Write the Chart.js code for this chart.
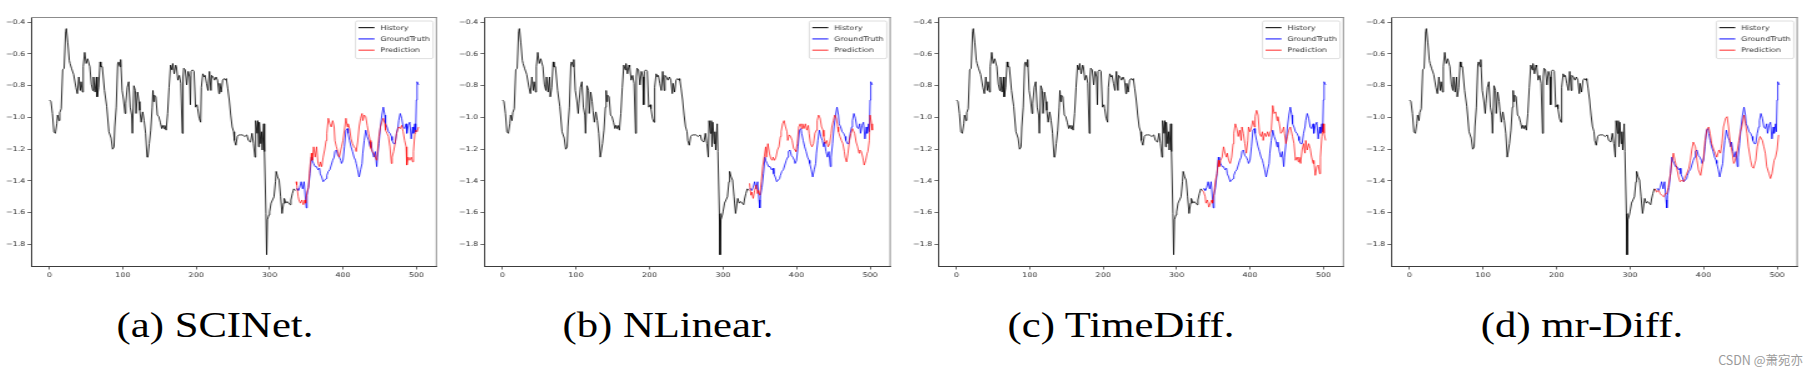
<!DOCTYPE html>
<html><head><meta charset="utf-8">
<script src="https://cdn.jsdelivr.net/npm/chart.js@4.4.0/dist/chart.umd.min.js"></script>
<style>
html,body{margin:0;padding:0;background:#fff;width:1812px;height:375px;overflow:hidden;position:relative}
canvas{position:absolute;top:0}
.cap{position:absolute;top:307.7px;font-family:"Liberation Serif","Times New Roman",serif;font-size:35px;line-height:35px;color:#000;white-space:pre;transform:translateX(-50%) scaleX(1.22);}
.wm{position:absolute;right:9px;top:350px;font-family:"Noto Sans CJK SC","Noto Sans",sans-serif;font-size:12.5px;color:#9a9a9a;white-space:pre}
</style></head><body>
<canvas id="c0"></canvas><canvas id="c1"></canvas><canvas id="c2"></canvas><canvas id="c3"></canvas>
<div class="cap" id="t0"></div><div class="cap" id="t1"></div><div class="cap" id="t2"></div><div class="cap" id="t3"></div>
<div class="wm">CSDN @萧宛亦</div>
<script>
// ---- data ----
const seriesLabels = ['History', 'GroundTruth', 'Prediction'];
const captions = ['(a) SCINet.', '(b) NLinear.', '(c) TimeDiff.', '(d) mr-Diff.'];
const xTicks = [0, 100, 200, 300, 400, 500];
const yTicks = [-1.8, -1.6, -1.4, -1.2, -1.0, -0.8, -0.6, -0.4];

const histX = [0,2,4,6,8,10,11,13,14,16,18,20,22,23,25,27,28,30,33,36,38,40,42,43,45,46,48,50,52,55,57,59,60,62,64,65,67,69,70,72,75,78,81,84,86,88,89,91,93,94,96,97,99,101,103,104,106,108,110,112,113,115,117,118,120,122,123,125,127,129,131,133,134,136,138,140,141,142,143,145,147,149,151,153,154,156,157,159,161,163,165,167,168,170,172,173,175,177,179,181,182,183,185,187,189,191,192,193,195,197,199,201,202,204,206,207,209,211,212,214,216,218,220,221,223,225,227,229,231,232,234,236,238,240,241,243,245,247,249,251,252,254,256,258,260,263,266,269,271,274,276,278,280,281,283,284,285,286,288,289,290,292,293,295,296,297,299,300,302,304,306,308,309,311,313,315,317,319,320,322,324,326,328,329,331,333,335];
const histY = [-0.89,-0.90,-0.975,-1.09,-1.10,-1.04,-0.985,-1.02,-0.97,-0.945,-0.70,-0.69,-0.46,-0.44,-0.53,-0.64,-0.66,-0.69,-0.73,-0.81,-0.85,-0.745,-0.83,-0.775,-0.84,-0.68,-0.59,-0.66,-0.63,-0.68,-0.79,-0.83,-0.745,-0.84,-0.745,-0.87,-0.81,-0.65,-0.68,-0.68,-0.83,-0.93,-1.09,-1.13,-1.20,-1.185,-1.06,-0.935,-0.66,-0.65,-0.68,-0.635,-0.83,-0.89,-0.975,-0.91,-0.81,-0.775,-0.935,-0.985,-1.10,-0.80,-0.83,-0.975,-0.84,-0.90,-0.955,-1.03,-0.965,-1.02,-1.10,-1.25,-1.25,-1.165,-1.08,-0.935,-0.83,-0.90,-0.86,-0.87,-0.985,-0.995,-1.03,-1.07,-1.05,-1.07,-1.05,-1.08,-0.975,-0.81,-0.67,-0.70,-0.66,-0.725,-0.67,-0.68,-0.765,-0.735,-0.785,-1.10,-0.745,-0.69,-0.70,-0.795,-0.71,-0.745,-0.92,-0.71,-0.70,-0.71,-0.935,-0.92,-0.945,-1.005,-1.03,-0.81,-0.725,-0.745,-0.735,-0.785,-0.83,-0.71,-0.83,-0.735,-0.745,-0.765,-0.745,-0.765,-0.85,-0.785,-0.84,-0.765,-0.755,-0.765,-0.755,-0.82,-0.89,-0.985,-1.06,-1.09,-1.145,-1.175,-1.12,-1.11,-1.11,-1.11,-1.12,-1.11,-1.145,-1.155,-1.10,-1.165,-1.25,-1.02,-1.10,-1.02,-1.185,-1.03,-1.165,-1.09,-1.205,-1.04,-1.215,-1.605,-1.865,-1.645,-1.615,-1.595,-1.54,-1.52,-1.50,-1.405,-1.34,-1.375,-1.395,-1.50,-1.605,-1.54,-1.51,-1.54,-1.53,-1.54,-1.55,-1.52,-1.48,-1.45,-1.46];

const truthX = [336,338,339,341,343,345,347,349,350,351,353,355,357,358,360,362,364,366,368,369,371,373,375,377,378,380,382,384,386,388,389,391,393,395,397,398,400,402,404,406,407,409,411,413,415,417,418,420,422,424,426,427,429,431,433,435,437,438,440,442,444,446,447,449,451,453,455,457,458,460,462,464,466,467,469,471,473,475,476,478,480,482,484,486,487,489,491,493,495,496,498,499,500,501,503];
const truthY = [-1.45,-1.45,-1.46,-1.44,-1.405,-1.45,-1.405,-1.52,-1.57,-1.49,-1.44,-1.355,-1.25,-1.27,-1.29,-1.31,-1.31,-1.33,-1.32,-1.355,-1.375,-1.405,-1.395,-1.385,-1.365,-1.34,-1.33,-1.30,-1.27,-1.25,-1.215,-1.205,-1.24,-1.25,-1.27,-1.29,-1.27,-1.185,-1.08,-1.07,-1.10,-1.145,-1.185,-1.215,-1.25,-1.27,-1.29,-1.33,-1.375,-1.33,-1.29,-1.225,-1.145,-1.08,-1.12,-1.145,-1.185,-1.155,-1.215,-1.25,-1.215,-1.31,-1.25,-1.165,-1.06,-0.985,-0.935,-0.985,-1.04,-1.06,-1.09,-1.10,-1.12,-1.145,-1.165,-1.165,-1.10,-1.06,-1.02,-0.975,-1.005,-1.06,-1.07,-1.04,-1.10,-1.05,-1.03,-1.135,-1.06,-1.10,-1.04,-1.09,-0.89,-0.775,-0.795];

const scinetX = [336,337,339,340,342,344,346,348,349,351,353,355,357,358,360,362,364,366,368,369,371,373,375,377,378,380,382,384,386,388,389,391,393,395,397,398,400,402,404,406,407,409,411,413,415,417,418,420,422,424,426,427,429,431,433,435,437,438,440,442,444,446,447,449,451,453,455,457,458,460,462,464,466,467,469,471,473,475,476,478,480,482,484,486,487,489,491,493,495,496,498,499,501,503];
const scinetY = [-1.405,-1.425,-1.50,-1.52,-1.54,-1.52,-1.55,-1.52,-1.54,-1.47,-1.44,-1.31,-1.225,-1.27,-1.185,-1.25,-1.185,-1.29,-1.31,-1.28,-1.31,-1.25,-1.205,-1.145,-1.10,-1.005,-1.04,-1.06,-1.02,-1.06,-1.145,-1.185,-1.215,-1.25,-1.205,-1.185,-1.145,-1.08,-1.005,-1.06,-1.04,-1.07,-1.135,-1.165,-1.185,-1.195,-1.215,-1.155,-1.06,-1.005,-0.975,-1.02,-0.985,-0.995,-1.05,-1.10,-1.145,-1.195,-1.215,-1.225,-1.25,-1.27,-1.215,-1.12,-1.06,-1.03,-1.005,-1.04,-1.08,-1.10,-1.12,-1.185,-1.29,-1.25,-1.215,-1.165,-1.10,-1.07,-1.06,-1.07,-1.05,-1.09,-1.145,-1.185,-1.30,-1.25,-1.27,-1.25,-1.28,-1.215,-1.10,-1.08,-1.09,-1.06];

const nlinearX = [336,338,339,341,343,345,347,348,350,352,354,356,358,359,361,363,365,367,368,370,372,374,376,378,379,381,383,385,387,388,390,392,394,396,398,399,401,403,405,407,408,410,412,414,416,417,419,421,423,425,427,428,430,432,434,436,437,439,441,443,445,447,448,450,452,454,456,457,459,461,463,465,466,468,470,472,474,476,477,479,481,483,485,486,488,490,492,494,496,497,499,500,502,503];
const nlinearY = [-1.415,-1.49,-1.47,-1.51,-1.46,-1.425,-1.48,-1.46,-1.49,-1.405,-1.31,-1.25,-1.185,-1.25,-1.165,-1.225,-1.26,-1.27,-1.25,-1.27,-1.25,-1.205,-1.185,-1.12,-1.09,-1.04,-1.02,-1.06,-1.09,-1.145,-1.11,-1.12,-1.145,-1.195,-1.205,-1.215,-1.165,-1.06,-1.04,-1.07,-1.04,-1.07,-1.04,-1.08,-1.05,-1.10,-1.165,-1.185,-1.165,-1.10,-1.08,-1.02,-0.985,-1.005,-1.06,-1.08,-1.12,-1.165,-1.145,-1.185,-1.165,-1.10,-1.06,-1.02,-0.985,-1.005,-1.06,-1.09,-1.12,-1.145,-1.165,-1.215,-1.25,-1.28,-1.225,-1.145,-1.10,-1.07,-1.08,-1.10,-1.155,-1.185,-1.225,-1.205,-1.215,-1.25,-1.30,-1.27,-1.225,-1.215,-1.145,-0.985,-1.04,-1.08];

const timediffX = [335,337,339,340,342,344,346,348,349,351,353,355,357,358,360,362,364,366,368,369,371,373,375,377,378,380,382,384,386,388,389,391,393,395,397,398,400,402,404,406,407,409,411,413,415,417,418,420,422,424,426,427,429,431,433,435,437,438,440,442,444,446,447,449,451,453,455,456,458,460,462,464,466,467,469,471,473,475,476,478,480,482,484,486,487,489,491,493,495,496,498,500,501,503];
const timediffY = [-1.46,-1.47,-1.50,-1.54,-1.52,-1.565,-1.54,-1.52,-1.54,-1.48,-1.395,-1.355,-1.27,-1.31,-1.27,-1.25,-1.185,-1.225,-1.25,-1.225,-1.27,-1.29,-1.25,-1.165,-1.10,-1.04,-1.07,-1.12,-1.08,-1.145,-1.06,-1.10,-1.165,-1.225,-1.145,-1.06,-1.09,-1.06,-1.02,-1.06,-0.995,-0.955,-0.985,-1.10,-1.12,-1.09,-1.145,-1.10,-1.12,-1.09,-1.12,-1.10,-1.08,-0.925,-0.975,-0.965,-1.02,-0.995,-1.04,-1.10,-1.09,-1.06,-1.10,-1.165,-1.12,-1.08,-1.06,-1.08,-1.12,-1.165,-1.27,-1.25,-1.28,-1.25,-1.29,-1.205,-1.165,-1.225,-1.145,-1.205,-1.165,-1.195,-1.25,-1.29,-1.27,-1.365,-1.31,-1.30,-1.355,-1.25,-1.12,-1.04,-1.10,-1.145];

const mrdiffX = [334,336,339,341,343,346,348,350,352,355,357,359,361,364,366,368,371,373,375,377,380,382,384,386,389,391,393,396,398,400,402,405,407,409,411,414,416,418,421,423,425,427,430,432,434,436,439,441,443,446,448,450,452,455,457,459,461,464,466,468,471,473,475,477,480,482,484,486,489,491,493,496,498,500,502];
const mrdiffY = [-1.45,-1.47,-1.46,-1.48,-1.49,-1.50,-1.48,-1.48,-1.44,-1.355,-1.27,-1.225,-1.27,-1.33,-1.375,-1.405,-1.395,-1.405,-1.375,-1.355,-1.32,-1.27,-1.205,-1.155,-1.185,-1.27,-1.33,-1.365,-1.31,-1.25,-1.145,-1.07,-1.06,-1.10,-1.165,-1.205,-1.225,-1.25,-1.205,-1.225,-1.165,-1.06,-1.005,-0.995,-1.06,-1.145,-1.225,-1.29,-1.27,-1.205,-1.145,-1.09,-1.06,-0.985,-1.04,-1.10,-1.185,-1.27,-1.31,-1.32,-1.27,-1.185,-1.145,-1.12,-1.145,-1.185,-1.225,-1.31,-1.355,-1.385,-1.355,-1.27,-1.25,-1.205,-1.11];

const predX = [scinetX, nlinearX, timediffX, mrdiffX];
const predY = [scinetY, nlinearY, timediffY, mrdiffY];

// ---- layout (CSS px) ----
const S = 1.25;           // horizontal stretch of the reference figure
const plotL = [31, 484, 938, 1391];
const plotR = [437, 891, 1344, 1798];
const capCenter = [215, 668, 1121, 1582];
const YW = 32, H = 300, TOP = 17, XH = 34;

const pts = (xs, ys) => xs.map((x, k) => ({x: x, y: ys[k]}));
const fmt = v => (v < 0 ? '\u2212' : '') + Math.abs(v).toFixed(1);

const framePlugin = {
  id: 'frame',
  afterDatasetsDraw(chart) {
    const {ctx, chartArea: a} = chart;
    ctx.save();
    ctx.lineWidth = 1;
    ctx.strokeStyle = '#8c8c8c';
    ctx.beginPath();
    ctx.moveTo(a.left, a.top + 0.5); ctx.lineTo(a.right, a.top + 0.5);
    ctx.moveTo(a.right - 0.5, a.top); ctx.lineTo(a.right - 0.5, a.bottom);
    ctx.stroke();
    // legend
    const ds = chart.data.datasets;
    ctx.font = '6.4px "DejaVu Sans"';
    const tw = Math.max(...ds.map(d => ctx.measureText(d.label).width));
    const w = 19.8 + tw + 2.5, h = 37.6;
    const x = a.right - 3.2 - w, y = a.top + 4;
    ctx.fillStyle = 'rgba(255,255,255,0.8)';
    ctx.strokeStyle = '#d6d6d6';
    ctx.lineWidth = 0.8;
    ctx.beginPath();
    if (ctx.roundRect) ctx.roundRect(x, y, w, h, 1.5); else ctx.rect(x, y, w, h);
    ctx.fill(); ctx.stroke();
    ds.forEach((d, i) => {
      const yy = y + 6.6 + i * 11.3;
      ctx.strokeStyle = d.borderColor;
      ctx.lineWidth = 1.2;
      ctx.beginPath(); ctx.moveTo(x + 2.4, yy); ctx.lineTo(x + 15.2, yy); ctx.stroke();
      ctx.fillStyle = '#333';
      ctx.textBaseline = 'middle';
      ctx.fillText(d.label, x + 19.8, yy + 0.3);
    });
    ctx.restore();
  }
};

for (let i = 0; i < 4; i++) {
  const plotWb = (plotR[i] - plotL[i]) / S;
  const wb = Math.ceil(YW + plotWb + 3);
  const rp = wb - YW - plotWb;
  const cv = document.getElementById('c' + i);
  cv.width = wb; cv.height = H;
  cv.style.width = (wb * S) + 'px';
  cv.style.height = H + 'px';
  cv.style.left = (plotL[i] - YW * S) + 'px';
  const cap = document.getElementById('t' + i);
  cap.textContent = captions[i];
  cap.style.left = capCenter[i] + 'px';

  new Chart(cv, {
    type: 'line',
    data: {
      datasets: [
        {label: seriesLabels[0], data: pts(histX, histY), borderColor: 'rgba(0,0,0,0.85)', borderWidth: 0.95, order: 2},
        {label: seriesLabels[1], data: pts(truthX, truthY), borderColor: 'rgba(0,0,255,0.8)', borderWidth: 0.95, order: 1},
        {label: seriesLabels[2], data: pts(predX[i], predY[i]), borderColor: 'rgba(255,0,0,0.7)', borderWidth: 0.95, order: 0}
      ]
    },
    options: {
      responsive: false,
      devicePixelRatio: 1,
      animation: false,
      events: [],
      elements: {point: {radius: 0}, line: {tension: 0}},
      layout: {padding: {left: 0, right: rp, top: TOP, bottom: 0}},
      plugins: {legend: {display: false}, tooltip: {enabled: false}},
      scales: {
        x: {
          type: 'linear', min: -25.15, max: 528.15,
          afterBuildTicks: s => { s.ticks = xTicks.map(v => ({value: v})); },
          afterFit: s => { s.height = XH; },
          ticks: {font: {family: 'DejaVu Sans', size: 6.4}, color: '#333', padding: 2, maxRotation: 0, autoSkip: false,
                  callback: v => String(v)},
          grid: {display: true, drawOnChartArea: false, drawTicks: true, tickLength: 3.5, color: '#444', lineWidth: 0.8},
          border: {display: true, color: '#3c3c3c', width: 1}
        },
        y: {
          type: 'linear', min: -1.936, max: -0.367,
          afterBuildTicks: s => { s.ticks = yTicks.map(v => ({value: v})); },
          afterFit: s => { s.width = YW; },
          ticks: {font: {family: 'DejaVu Sans', size: 6.4}, color: '#333', padding: 1.8, autoSkip: false, callback: v => fmt(v)},
          grid: {display: true, drawOnChartArea: false, drawTicks: true, tickLength: 2.8, color: '#444', lineWidth: 0.8},
          border: {display: true, color: '#3c3c3c', width: 1}
        }
      }
    },
    plugins: [framePlugin]
  });
}
</script>
</body></html>
